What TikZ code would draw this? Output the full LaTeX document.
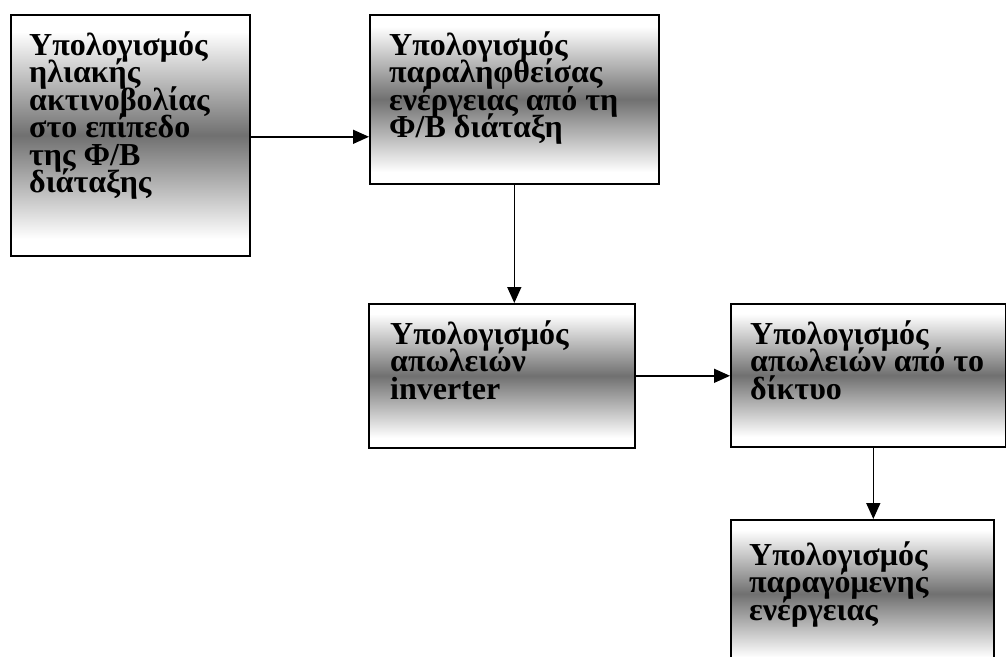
\documentclass[tikz,border=0pt]{standalone}
\usepackage{fontspec}
\setmainfont{Liberation Serif}
\usetikzlibrary{arrows.meta}
\definecolor{darkg}{gray}{0.44}
\pgfdeclareverticalshading{boxgrad}{100bp}{color(0bp)=(white); color(25bp)=(white); color(28.5bp)=(white); color(50bp)=(darkg); color(71.5bp)=(white); color(75bp)=(white); color(100bp)=(white)}
\newcommand{\tightlines}{\lineskiplimit=-100pt\relax\lineskip=0pt\relax}
\tikzset{
  box/.style={draw=black, line width=1.6pt, rectangle, anchor=north west, inner sep=0pt, shade, shading=boxgrad},
  txt/.style={anchor=north west, inner sep=0pt, align=left, font=\fontsize{32}{27.5}\selectfont\bfseries\tightlines},
  arr/.style={line width=1.5pt, -{Triangle[length=16pt,width=14pt]}}
}
\newcommand{\tstrut}{\rule{0pt}{26pt}}
\begin{document}
\begin{tikzpicture}[x=1pt,y=-1pt]
\useasboundingbox (0,0) rectangle (1006,656);
\clip (0,0) rectangle (1006,656);
\fill[white] (0,0) rectangle (1006,656);
\node[box, minimum width=239pt, minimum height=241pt] (b1) at (10,14) {};
\node[box, minimum width=289pt, minimum height=169pt] (b2) at (369,14) {};
\node[box, minimum width=266pt, minimum height=144pt] (b3) at (368,303) {};
\node[box, minimum width=275pt, minimum height=143pt] (b4) at (730,303) {};
\node[box, minimum width=263pt, minimum height=148pt] (b5) at (730,519) {};
\node[txt] (t1) at (29,29) {\tstrut Υπολογισμός\\ηλιακής\\ακτινοβολίας\\στο επίπεδο\\της Φ/Β\\διάταξης};
\node[txt] (t2) at (389,29) {\tstrut Υπολογισμός\\παραληφθείσας\\ενέργειας από τη\\Φ/Β διάταξη};
\node[txt] (t3) at (390,318) {\tstrut Υπολογισμός\\απωλειών\\inverter};
\node[txt] (t4) at (750,318) {\tstrut Υπολογισμός\\απωλειών από το\\δίκτυο};
\node[txt] (t5) at (749,539) {\tstrut Υπολογισμός\\παραγόμενης\\ενέργειας};
\coordinate (a4) at ([xshift=5pt]b4.south);
\draw[arr] ([yshift=-1.5pt]b1.east) -- ([yshift=-1.5pt]b1.east -| b2.west);
\draw[arr] (b2.south) -- (b2.south |- b3.north);
\draw[arr] (b3.east) -- (b3.east -| b4.west);
\draw[arr] (a4) -- (a4 |- b5.north);
\end{tikzpicture}
\end{document}
